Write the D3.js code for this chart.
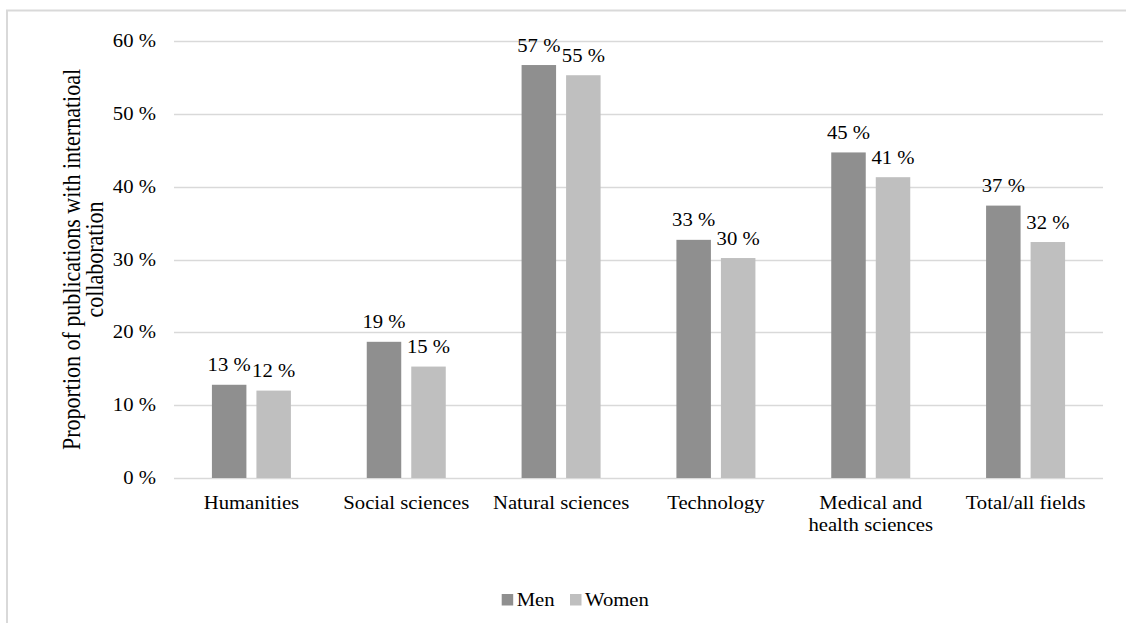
<!DOCTYPE html>
<html>
<head>
<meta charset="utf-8">
<script src="https://cdn.jsdelivr.net/npm/d3@7"></script>
<style>
  html, body { margin: 0; padding: 0; background: #fff; }
  svg { display: block; }
</style>
</head>
<body>
<script>
const categories = ["Humanities", "Social sciences", "Natural sciences", "Technology", "Medical and\nhealth sciences", "Total/all fields"];
const seriesNames = ["Men", "Women"];
const menValues = [12.8, 18.7, 56.7, 32.7, 44.7, 37.4];
const womenValues = [12.0, 15.3, 55.3, 30.2, 41.3, 32.4];
const yTicks = [0, 10, 20, 30, 40, 50, 60];
const colors = { Men: "#8f8f8f", Women: "#bfbfbf" };

const W = 1126, H = 623;
const SX = 1.12, FS = 18.5;
const FONT = "Liberation Serif";

const svg = d3.select("body").append("svg").attr("width", W).attr("height", H);

// outer frame (cropped)
svg.append("rect").attr("x", 7).attr("y", 10.5).attr("width", W + 20).attr("height", H + 20)
  .attr("fill", "none").attr("stroke", "#d9d9d9").attr("stroke-width", 2);

const x0 = d3.scaleBand().domain(categories).range([174, 1103]).padding(0);
const x1 = d3.scaleBand().domain(seriesNames).range([-39.5, 39.5]).paddingInner(0.225).paddingOuter(0);
const y = d3.scaleLinear().domain([0, 60]).range([478, 41]);

function stext(parent, x, yy, str, anchor) {
  return parent.append("text")
    .attr("transform", `translate(${x},${yy}) scale(${SX},1)`)
    .attr("text-anchor", anchor || "middle")
    .style("font-family", FONT)
    .style("font-size", FS + "px")
    .attr("fill", "#000")
    .text(str);
}

// gridlines
svg.append("g").selectAll("line").data(yTicks).join("line")
  .attr("x1", 174).attr("x2", 1103)
  .attr("y1", d => Math.round(y(d)) + 0.5).attr("y2", d => Math.round(y(d)) + 0.5)
  .attr("stroke", "#d9d9d9").attr("stroke-width", 1.3);

// y tick labels
yTicks.forEach(t => stext(svg, 156, y(t) + 6, t + " %", "end"));

// bars
const rows = categories.map((c, i) => ({ cat: c, vals: [{ s: "Men", v: menValues[i] }, { s: "Women", v: womenValues[i] }] }));
const groups = svg.append("g").selectAll("g").data(rows).join("g")
  .attr("transform", d => `translate(${x0(d.cat) + x0.bandwidth() / 2},0)`);
groups.selectAll("rect").data(d => d.vals).join("rect")
  .attr("x", d => x1(d.s)).attr("width", x1.bandwidth())
  .attr("y", d => y(d.v)).attr("height", d => y(0) - y(d.v))
  .attr("fill", d => colors[d.s]);
groups.each(function(d) {
  const g = d3.select(this);
  d.vals.forEach(p => stext(g, x1(p.s) + x1.bandwidth() / 2, y(p.v) - 13.5, Math.round(p.v) + " %"));
});

// category labels
categories.forEach(c => {
  const cx = x0(c) + x0.bandwidth() / 2;
  c.split("\n").forEach((line, k) => stext(svg, cx, 509 + k * 22, line));
});

// y axis title
const tg = svg.append("g").attr("transform", `translate(80,259.5) scale(${SX},1) rotate(-90)`);
tg.append("text").attr("text-anchor", "middle").attr("y", 0)
  .style("font-family", FONT).style("font-size", "22px").attr("fill", "#000")
  .text("Proportion of publications with internatioal");
tg.append("text").attr("text-anchor", "middle").attr("y", 20.5)
  .style("font-family", FONT).style("font-size", "22px").attr("fill", "#000")
  .text("collaboration");

// legend
const legend = [{ s: "Men", x: 501.7 }, { s: "Women", x: 570 }];
legend.forEach(l => {
  svg.append("rect").attr("x", l.x).attr("y", 594).attr("width", 11.5).attr("height", 11.5).attr("fill", colors[l.s]);
  stext(svg, l.x + 15, 605.5, l.s, "start");
});
</script>
</body>
</html>
